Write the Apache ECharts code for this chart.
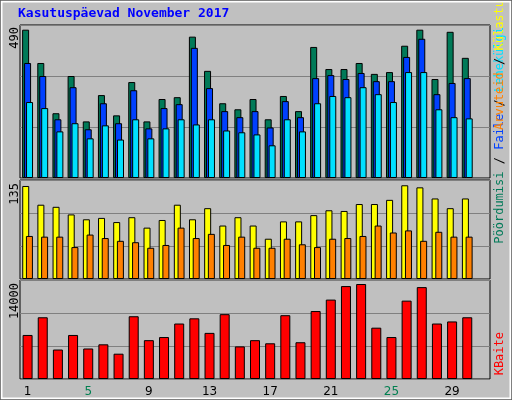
<!DOCTYPE html>
<html><head><meta charset="utf-8">
<script src="https://cdn.jsdelivr.net/npm/echarts@6/dist/echarts.min.js"></script>
<style>html,body{margin:0;padding:0;background:#fff}#c{width:512px;height:400px}</style>
</head><body><div id="c"></div>
<script>
const days = ['1','2','3','4','5','6','7','8','9','10','11','12','13','14','15','16','17','18','19','20','21','22','23','24','25','26','27','28','29','30','31'];
const weekend = ['4','5','11','12','18','19','25','26'];
const hits  = [490,380,214,337,187,274,207,317,187,261,267,467,354,247,227,261,194,271,221,433,360,360,380,344,350,437,490,327,483,397,null];
const files = [380,337,194,300,161,247,181,290,164,231,244,430,297,221,201,221,167,254,201,330,340,327,347,320,320,400,460,277,314,330,null];
const pages = [251,231,154,181,131,174,127,194,131,164,194,177,194,157,151,144,108,194,154,247,271,267,300,277,251,350,350,227,201,197,null];
const visits = [134,107,104,93,86,88,82,89,74,85,107,86,102,77,89,77,58,83,83,92,99,98,108,108,114,135,132,116,102,116,null];
const hosts  = [62,61,61,46,64,59,55,53,45,49,74,59,65,49,61,45,45,58,50,46,58,59,62,77,67,70,55,68,61,61,null];
const kbytes = [6490,9096,4344,6490,4497,5110,3730,9249,5723,6183,8176,8943,6796,9556,4803,5723,5263,9402,5417,10016,11702,13695,14000,7563,6183,11549,13541,8176,8483,9096,null];
const maxLabels = ['490','135','14000'];

const chart = echarts.init(document.getElementById('c'));
const grids = [{top:25,height:153},{top:180,height:99},{top:280,height:99}].map(g=>({left:20,width:470,top:g.top,height:g.height,show:true,borderColor:'#000',borderWidth:1,backgroundColor:'#c0c0c0'}));
const maxes=[505.5,142.6,14590];
const xAxes = [0,1,2].map(i=>({gridIndex:i,type:'category',data:days,axisLine:{show:false},axisTick:{show:false},
  axisLabel: i===2 ? {show:true,margin:7,fontFamily:'DejaVu Sans',fontSize:12,
    color:'#000',formatter:v=>weekend.includes(v)?'{w|'+v+'}':v,rich:{w:{color:'#007f50',fontFamily:'DejaVu Sans',fontSize:12}}} : {show:false}}));
const yAxes = [0,1,2].map(i=>({gridIndex:i,type:'value',min:0,max:maxes[i],interval:maxes[i]/3,axisLabel:{show:false},axisLine:{show:false},axisTick:{show:false},splitLine:{show:true,lineStyle:{color:'#808080',width:1}}}));
const bs = c=>({color:c,borderColor:'#000',borderWidth:1});
const series = [
 {type:'bar',xAxisIndex:0,yAxisIndex:0,data:hits,barWidth:7,barGap:'-72%',itemStyle:bs('#007a58')},
 {type:'bar',xAxisIndex:0,yAxisIndex:0,data:files,barWidth:7,barGap:'-72%',itemStyle:bs('#0040ff')},
 {type:'bar',xAxisIndex:0,yAxisIndex:0,data:pages,barWidth:7,barGap:'-72%',itemStyle:bs('#00e0ff')},
 {type:'bar',xAxisIndex:1,yAxisIndex:1,data:visits,barWidth:7,barGap:'-47%',itemStyle:bs('#ffff00')},
 {type:'bar',xAxisIndex:1,yAxisIndex:1,data:hosts,barWidth:7,barGap:'-47%',itemStyle:bs('#ff8000')},
 {type:'bar',xAxisIndex:2,yAxisIndex:2,data:kbytes,barWidth:10,itemStyle:bs('#ff0000')}
];
const rt = (x,y,text,fill,extra)=>Object.assign({type:'text',x:x,y:y,rotation:Math.PI/2,style:{text:text,fill:fill,font:'12px "DejaVu Sans Mono"',textAlign:'right',textVerticalAlign:'middle'}},extra||{});
chart.setOption({
 animation:false,backgroundColor:'#c0c0c0',
 grid:grids,xAxis:xAxes,yAxis:yAxes,series:series,
 graphic:[
  {type:'rect',shape:{x:0.5,y:0.5,width:511,height:399},style:{fill:null,stroke:'#000',lineWidth:1},z:100},
  {type:'rect',shape:{x:1.5,y:1.5,width:509,height:397},style:{fill:null,stroke:'#fff',lineWidth:2},z:100},
  {type:'text',left:18,top:7,style:{text:'Kasutuspäevad November 2017',fill:'#0000ff',font:'bold 13px "DejaVu Sans Mono"'}},
  {type:'text',x:9,y:27,rotation:Math.PI/2,style:{text:maxLabels[0],fill:'#000',font:'12px "DejaVu Sans Mono"',textAlign:'right',textVerticalAlign:'top'}},
  {type:'text',x:9,y:183,rotation:Math.PI/2,style:{text:maxLabels[1],fill:'#000',font:'12px "DejaVu Sans Mono"',textAlign:'right',textVerticalAlign:'top'}},
  {type:'text',x:9,y:283,rotation:Math.PI/2,style:{text:maxLabels[2],fill:'#000',font:'12px "DejaVu Sans Mono"',textAlign:'right',textVerticalAlign:'top'}},
  {type:'text',x:494,y:27,rotation:Math.PI/2,style:{rich:{a:{fill:'#007a58',font:'12px "DejaVu Sans Mono"'},b:{fill:'#0040ff',font:'12px "DejaVu Sans Mono"'},c:{fill:'#00e0ff',font:'12px "DejaVu Sans Mono"'},k:{fill:'#000',font:'12px "DejaVu Sans Mono"'}},text:'{a|Pöördumisi}{k| / }{b|Faile}{k| / }{c|Lehekülgi}',textAlign:'right',textVerticalAlign:'top'}},
  {type:'text',x:494,y:130,rotation:Math.PI/2,style:{rich:{a:{fill:'#ffff00',font:'12px "DejaVu Sans Mono"'},b:{fill:'#ff8000',font:'12px "DejaVu Sans Mono"'},k:{fill:'#000',font:'12px "DejaVu Sans Mono"'}},text:'{b|Arvuteid}{k| / }{a|Külastusi}',textAlign:'left',textVerticalAlign:'top',verticalAlign:'top'},origin:[0,0]},
  {type:'text',x:494,y:332,rotation:Math.PI/2,style:{text:'KBaite',fill:'#ff0000',font:'12px "DejaVu Sans Mono"',textAlign:'right',textVerticalAlign:'top'}}
 ]
});
</script></body></html>
